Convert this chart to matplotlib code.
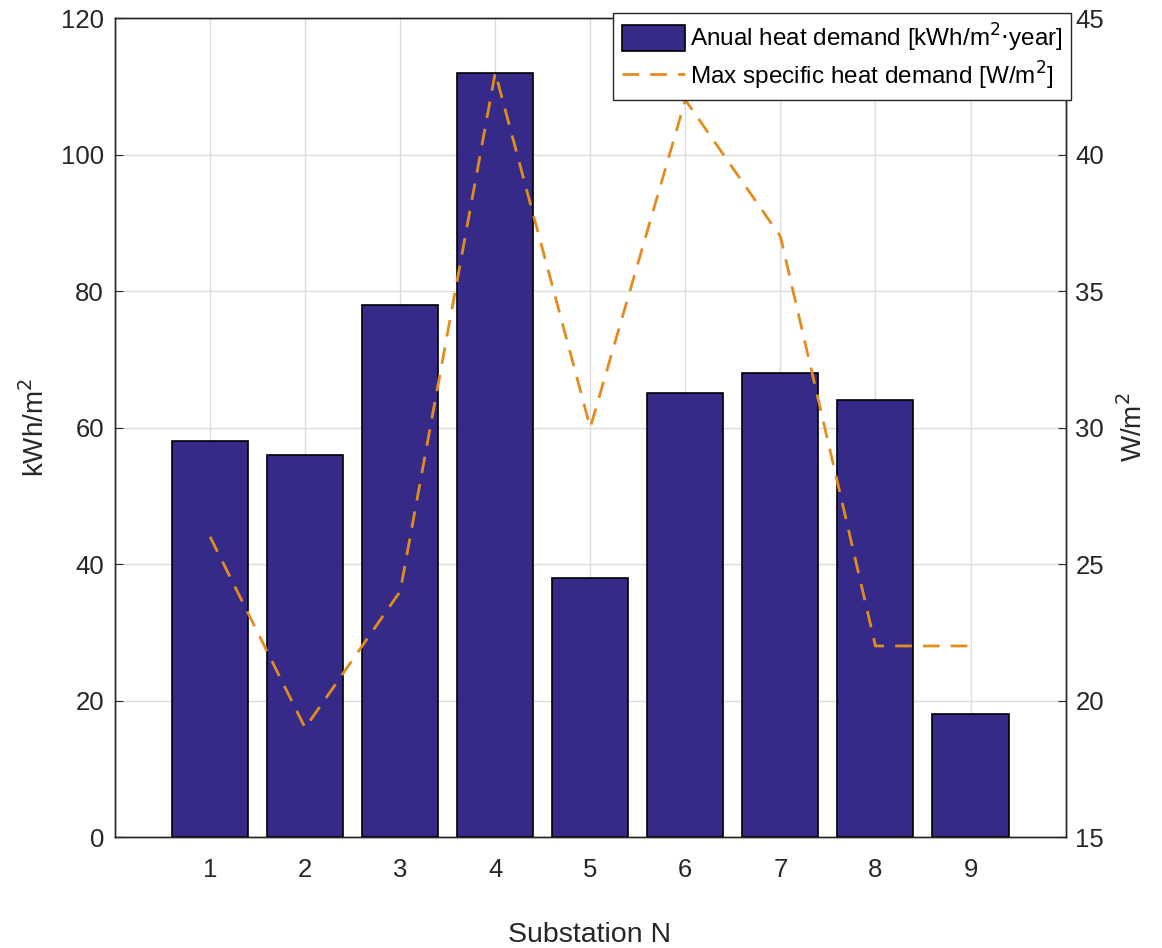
import numpy as np
import matplotlib
matplotlib.use('Agg')
import matplotlib.pyplot as plt

plt.rcParams['font.family'] = ['Liberation Sans', 'DejaVu Sans']

substations = [1, 2, 3, 4, 5, 6, 7, 8, 9]
annual_demand = [58, 56, 78, 112, 38, 65, 68, 64, 18]
max_specific = [26, 19, 24, 43, 30, 42, 37, 22, 22]

bar_color = '#352A87'
line_color = '#E38C1E'
text_color = '#262626'

fig = plt.figure(figsize=(11.62, 9.48), dpi=100)
ax = fig.add_axes([0.099, 0.117, 0.818, 0.864])

bars = ax.bar(substations, annual_demand, width=0.8, color=bar_color,
              edgecolor='black', linewidth=1.2, zorder=3)
ax.set_xlim(0, 10)
ax.set_ylim(0, 120)
ax.set_xticks(substations)
ax.set_yticks(np.arange(0, 121, 20))
ax.grid(True, color='#DCDCDC', linewidth=1.0, zorder=0)
ax.set_axisbelow(True)
ax.tick_params(direction='in', length=6, labelsize=18.5, colors=text_color)
ax.tick_params(axis='x', pad=15)
ax.tick_params(axis='y', pad=8)
ax.set_ylabel('kWh/m$^2$', fontsize=20, color=text_color, labelpad=8)
fig.text(0.507, 6 / 948, 'Substation N', fontsize=20.5, color=text_color,
         ha='center', va='baseline')

ax2 = ax.twinx()
line, = ax2.plot(substations, max_specific, '--', color=line_color, linewidth=2,
                 dashes=(6, 4))
ax2.set_ylim(15, 45)
ax2.set_yticks(np.arange(15, 46, 5))
ax2.tick_params(direction='in', length=6, labelsize=18.5, colors=text_color, pad=7)
ax2.set_ylabel('W/m$^2$', fontsize=20, color=text_color, labelpad=10)

for a in (ax, ax2):
    for s in a.spines.values():
        s.set_color('#262626')
        s.set_linewidth(1.0)

leg = fig.legend([bars, line],
                 ['Anual heat demand [kWh/m$^2$$\\cdot$year]',
                  'Max specific heat demand [W/m$^2$]'],
                 loc='upper right', bbox_to_anchor=(0.9217, 0.9863),
                 fontsize=17.5, frameon=True, fancybox=False, framealpha=1,
                 edgecolor='#262626', borderpad=0.35, handlelength=2.6,
                 handleheight=1.25, handletextpad=0.2, labelspacing=0.25,
                 borderaxespad=0)
leg.get_frame().set_linewidth(1.0)

fig.savefig('out.png', dpi=100)
